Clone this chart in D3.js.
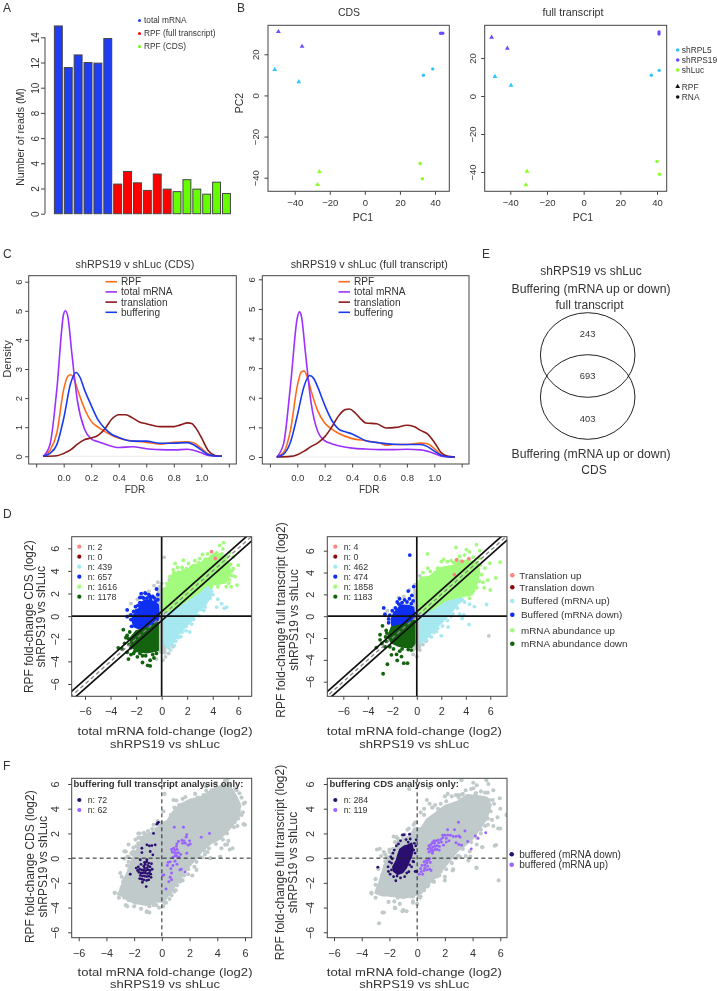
<!DOCTYPE html>
<html><head><meta charset="utf-8">
<script src="https://cdn.jsdelivr.net/npm/d3@7/dist/d3.min.js"></script>
<style>
html,body{margin:0;padding:0;background:#fff}
svg{display:block;filter:blur(0.3px)}
text{font-family:"Liberation Sans",Arial,sans-serif;fill:#333}
</style></head><body><svg id="c" width="717" height="991"></svg>
<script>
// ---------- Panel A
const readGroups = ["total mRNA","RPF (full transcript)","RPF (CDS)"];
const readsMrna = [14.9,11.6,12.6,12.0,11.95,13.9];
const readsFull = [2.35,3.35,2.45,1.85,3.15,1.95];
const readsCds  = [1.75,2.7,1.95,1.55,2.5,1.6];
const readTicks = [0,2,4,6,8,10,12,14];
// ---------- Panel B  [PC1,PC2]
const pcaConditions = ["shRPL5","shRPS19","shLuc"];
const pcaCdsRpf = [[-51.4,12.6],[-37.7,6.6],[-49.3,31.0],[-35.8,23.8],[-25.9,-37.1],[-27.0,-43.4]];
const pcaCdsRna = [[33.4,9.8],[38.7,12.9],[43.2,30.2],[44.4,30.2],[31.5,-33.1],[32.8,-40.5]];
const pcaFullRpf = [[-48.4,10.2],[-39.6,5.6],[-50.2,30.9],[-41.6,25.1],[-30.9,-39.6],[-31.5,-46.8]];
const pcaFullRna = [[36.9,10.9],[41.2,13.5],[41.1,33.7],[41.1,32.6],[40.0,-34.4],[41.4,-41.2]];
const pcaTicksX = [-40,-20,0,20,40];
const pcaTicksY = [-40,-20,0,20];
// ---------- Panel C  [FDR,density]
const densityNames = ["RPF","total mRNA","translation","buffering"];
const fdrTicks = [-0.2,0,0.2,0.4,0.6,0.8,1,1.2];
const cdsRpf = [[-.15,0],[-.1,.2],[-.05,.8],[0,2.3],[.03,2.75],[.05,2.8],[.08,2.6],[.1,2.3],[.15,1.65],[.2,1.2],[.25,1],[.3,.85],[.35,.72],[.4,.62],[.5,.53],[.6,.48],[.7,.42],[.8,.48],[.9,.5],[.95,.45],[1,.28],[1.05,.08],[1.1,.01],[1.15,0]];
const cdsMrna = [[-.15,0],[-.1,.4],[-.05,2.3],[0,4.9],[.012,5],[.03,4.8],[.06,3.5],[.1,1.9],[.15,.95],[.2,.6],[.25,.5],[.3,.42],[.4,.3],[.5,.33],[.6,.26],[.7,.23],[.8,.22],[.9,.24],[1,.12],[1.05,.03],[1.15,0]];
const cdsTrans = [[-.15,0],[-.05,.02],[0,.1],[.05,.22],[.1,.42],[.15,.57],[.2,.63],[.25,.72],[.3,.95],[.35,1.28],[.4,1.43],[.45,1.43],[.5,1.32],[.55,1.18],[.6,1.12],[.7,1.02],[.8,1.02],[.85,1.08],[.9,1.15],[.93,1.13],[.97,.9],[1,.65],[1.05,.2],[1.1,.03],[1.15,0]];
const cdsBuff = [[-.15,0],[-.1,.1],[-.05,.4],[0,1.3],[.05,2.5],[.09,2.88],[.12,2.7],[.15,2.3],[.2,1.75],[.25,1.25],[.3,.95],[.35,.75],[.4,.65],[.5,.52],[.6,.52],[.7,.45],[.8,.45],[.9,.47],[.95,.38],[1,.22],[1.05,.06],[1.1,.01],[1.15,0]];
const fullRpf = [[-.15,0],[-.1,.15],[-.05,.9],[0,2.4],[.03,2.88],[.05,2.9],[.08,2.6],[.1,2.25],[.15,1.55],[.2,1.15],[.25,.95],[.3,.8],[.4,.62],[.5,.55],[.6,.47],[.65,.4],[.7,.42],[.8,.42],[.9,.47],[.95,.45],[1,.28],[1.05,.08],[1.1,.01],[1.15,0]];
const fullMrna = [[-.15,0],[-.1,.45],[-.05,2.4],[0,4.7],[.015,4.9],[.03,4.75],[.06,3.5],[.1,1.85],[.15,.85],[.2,.55],[.25,.45],[.3,.38],[.4,.3],[.5,.27],[.6,.25],[.7,.25],[.8,.26],[.9,.24],[1,.12],[1.05,.03],[1.15,0]];
const fullTrans = [[-.15,0],[-.05,.02],[0,.08],[.05,.2],[.1,.35],[.15,.48],[.2,.68],[.25,1],[.3,1.38],[.35,1.6],[.38,1.62],[.42,1.5],[.47,1.25],[.5,1.15],[.58,1.12],[.65,.98],[.72,1],[.8,1.07],[.85,1.03],[.9,.9],[.95,.78],[1,.5],[1.05,.15],[1.1,.02],[1.15,0]];
const fullBuff = [[-.15,0],[-.1,.1],[-.05,.5],[0,1.4],[.05,2.4],[.09,2.75],[.12,2.65],[.15,2.35],[.2,1.75],[.25,1.25],[.3,.95],[.35,.85],[.4,.78],[.5,.55],[.6,.48],[.7,.43],[.8,.42],[.9,.42],[.95,.35],[1,.2],[1.05,.06],[1.1,.01],[1.15,0]];
const densTicks = [0,1,2,3,4,5,6];
// ---------- Panel E
const vennCounts = [243,693,403];
// ---------- Panels D and F: dense parts of each cloud as outlines, sparse points as single points [mRNA,RPF]
const foldTicks = [-6,-4,-2,0,2,4,6];
const classNames = ["Translation up","Translation down","Buffered (mRNA up)","Buffered (mRNA down)","mRNA abundance up","mRNA abundance down"];
const countsCds = [2,0,439,657,1616,1178];
const countsFull = [4,0,462,474,1858,1183];
const cdsGreenArea = [[.15,.3],[.15,2.1],[.45,2.7],[.7,3.2],[.95,3.9],[1.3,3.7],[1.7,4.1],[2.1,4.1],[2.4,4.5],[3,4.6],[3.4,5],[4.1,5.3],[4.5,5.5],[5,5.1],[5.3,4.4],[5.3,3.6],[5.05,3.1],[4.6,2.9],[4,2.8],[3.4,2.7],[3,2.2],[2.2,1.6],[1.3,.9],[.6,.5]];
const cdsCyanArea = [[.2,-.2],[.6,.5],[1.3,.9],[2.2,1.6],[3,2.2],[3.4,2.7],[3.9,2.6],[3.8,1.7],[3.4,1],[2.8,.4],[2.4,-.3],[1.8,-1],[1.3,-1.6],[.9,-2.3],[.45,-2.8],[.25,-2.4]];
const cdsGrayArea = [[-.4,-.3],[-.3,2.4],[.2,2.4],[.2,-.2],[.25,-2.3],[.3,-3.3],[-.1,-3.2],[-.25,-3]];
const cdsBlueArea = [[-.25,.2],[-.3,1],[-.6,1.2],[-.9,1.4],[-1.3,1.4],[-1.55,1.2],[-1.75,.7],[-2,.3],[-2.2,.05],[-2.3,-.3],[-2.15,-.9],[-1.5,-1.2],[-1,-1],[-.5,-.5],[-.3,-.3]];
const cdsDarkArea = [[-.3,-.6],[-1,-1],[-1.5,-1.2],[-2,-1.35],[-2.4,-1.9],[-2.4,-2.6],[-1.9,-3.1],[-1.2,-3.2],[-.6,-3.1],[-.3,-3]];
const cdsRedPts = [[3.9,5.7],[4.2,5.1]];
const cdsGreenPts = [[4.85,6.5],[4.55,6.25],[4.8,5.95],[4.3,5.6],[3.6,5.5],[3.2,5.45],[5.3,5.6],[5.6,5.25],[6,4.5],[5.75,3.5],[5.9,2.75],[5.45,2.6],[5.05,2.6],[5.6,4.2],[1.7,4.95],[2.1,4.66],[1.05,4.66],[.9,4.1],[.65,3.5],[.4,2.9],[1.3,3.9],[2.6,4.9],[3,5.1],[.85,3.2],[.3,2.4],[1.6,4.3],[2.3,4.3],[5.3,3.2],[5.5,3.6],[4.9,3],[4.4,2.6],[3.9,2.6],[5.4,4.6],[5.1,5.3],[4.7,5.5],[3.9,5.3],[2.9,4.7],[1.95,4.2],[1.25,4.3],[5.5,4],[5.3,3.8],[5.25,2.9],[1,3.8],[3.4,5.05],[4.1,5.45]];
const cdsCyanPts = [[5.1,.8],[4.7,1.1],[4.3,.8],[4.9,.7],[4.4,1.5],[3.8,1.6],[3.4,.8],[2.9,.05],[2.2,-1.4],[1.9,-.9],[1.6,-1.4],[1,-2.6],[.7,-3],[.5,-2.2],[3.5,1.5],[4,1.9],[2.5,-.3],[1.3,-1.9],[3.9,2.2],[3.3,.5],[3.05,.6],[2.7,.1],[2.35,-.7],[1.9,-1.3],[1.5,-1.8],[1.1,-2.2]];
const cdsGrayPts = [[.2,5.2],[-.3,3],[0,2.9],[.6,3.2],[-.6,2.7],[-1,2.2],[-2.4,1.1],[-2.1,.5],[.2,-3],[.3,-3.6],[.55,-3.3],[-.1,-3],[.9,-2.7],[-.4,-3.8],[.1,-3.9],[.1,2.3],[5.05,3.6],[1.5,-.5],[.55,-2.8],[.75,-2.5],[-2.5,.1],[-1.9,1.5],[-.15,2.6]];
const cdsBluePts = [[-2.7,.55],[-2.2,.4],[-2.05,.85],[-1.7,1.2],[-1.6,2],[-1.3,2.05],[-1,1.9],[-.7,1.75],[-.4,2.4],[-.3,1.9],[-.5,1.3],[-1.4,1.6],[-2.4,-.3],[-2.7,-.05],[-2.35,-.9],[-1.85,.95],[-1.5,1.65],[-1.15,1.6],[-.85,1.55],[-.55,1.6],[-.3,1.45],[-1.95,.5],[-2.4,.1],[-1.25,2],[-1.7,1.65],[-.95,1.75]];
const cdsDarkPts = [[-3.4,-2.8],[-3,-1.2],[-2.8,-1.9],[-2.9,-2.4],[-2.7,-3.2],[-2.6,-3.8],[-2.1,-3.1],[-1.9,-3.6],[-1.5,-3.5],[-1.1,-4.35],[-.9,-4.4],[-.9,-3.9],[-.6,-3.7],[-1.5,-4.1],[-2.4,-3.4],[-3.1,-2.9],[-2.5,-1.4],[-2.6,-2],[-2.55,-2.5],[-2.7,-1.7],[-2.4,-2.8],[-2.2,-3.3],[-1.7,-3.3],[-1.25,-3.5],[-.7,-3.4],[-.4,-3.3]];
const fullGreenArea = [[.25,.3],[.15,3],[.3,3.5],[1.05,3.6],[1.9,4.4],[3,4.6],[3.5,5.1],[4.4,5],[4.95,5],[5.1,4],[4.85,2.9],[4.5,2],[3.5,1.8],[2.4,1.5],[1.3,.7]];
const fullCyanArea = [[.25,-.1],[.25,.3],[1.3,.7],[2.4,1.5],[3.5,1.8],[3.8,1.5],[3.3,1.1],[2.9,.5],[2.4,-.1],[2,-.6],[1.6,-1],[1.25,-1.4],[.75,-2],[.3,-2.5]];
const fullGrayArea = [[-.2,0],[-.2,2.4],[.2,2.4],[.25,-.1],[.3,-2.4],[.25,-2.9],[-.2,-3]];
const fullBlueArea = [[-.2,0],[-.3,.8],[-.7,.95],[-1.3,1],[-1.5,.7],[-1.85,.3],[-2.05,-.3],[-2,-.9],[-1.6,-.9],[-1,-.8],[-.5,-.4]];
const fullDarkArea = [[-.2,-.4],[-1,-.8],[-1.6,-.9],[-2.05,-1.05],[-2.35,-1.9],[-2.05,-2.4],[-1.5,-2.7],[-1,-2.8],[-.4,-2.8],[-.2,-2.5]];
const fullRedPts = [[3.24,5.15],[3.7,5.03],[4.25,5.27],[3.07,3.8]];
const fullGreenPts = [[3.2,6.3],[4.87,6.55],[4.05,6.1],[4.3,5.9],[.87,5.7],[5.14,6],[6.8,4.94],[5.96,4.85],[5.55,4.4],[6.45,3.5],[6,2.4],[5.8,3.3],[.9,4.4],[.5,4],[2,5],[2.2,5.2],[3,4.9],[3.5,5.5],[4.6,4.4],[4.3,1.65],[3.8,2.2],[5.4,3.1],[5.5,2.6],[2.5,5],[3.9,5.6],[1.1,4.1],[1.5,4],[2.8,5.1],[3.3,5.2],[4.2,5.2],[4.6,5.4],[5.1,5.3],[5.2,4.7],[5.3,3.8],[5.1,3.2],[4.9,2.6],[4.6,2.3],[1.7,4.4]];
const fullCyanPts = [[5.7,1.07],[4.7,.88],[4.27,-.76],[3.5,.18],[3.84,.12],[3.7,-.2],[2.56,-1],[2,-1.8],[1.6,-1.4],[.8,-2.2],[1.2,-1.9],[4.3,1.1],[3.9,1.3],[2.8,0],[3.3,.75],[2.95,.2],[2.5,-.4],[2.1,-.9],[1.7,-1.1],[1.4,-1.5],[1,-1.8]];
const fullGrayPts = [[5.88,-1.8],[-.16,2.87],[.25,3.7],[-1.5,1.7],[-1.06,1.8],[-.3,-3.5],[0,-3.7],[.25,-3.1],[-.6,2.4],[-2.4,.5],[-.3,-3.1],[.5,-2.6],[.75,-2.3],[.1,-3],[-.1,2.9]];
const fullBluePts = [[-.57,5.6],[-2.7,.76],[-2.6,.18],[-.25,2.7],[-.7,2.3],[-1.4,1.6],[-.4,1.9],[-1,1.5],[-1.6,1.3],[-2.2,.1],[-2.3,-.6],[-.6,1.6],[-.3,1.4],[-.8,1.3],[-1.2,1.25],[-1.75,.75],[-2,.5],[-2.3,-.25],[-.45,1.15],[-1.45,1.1]];
const fullDarkPts = [[-2.75,-5.27],[-2.4,-4.4],[-3.3,-2.87],[-2.07,-3.54],[-1.65,-3.5],[-1.6,-4.05],[-1.06,-4.3],[-.76,-4.3],[-1.25,-3.7],[-3,-1.7],[-2.8,-.88],[-2.5,-1.3],[-3,-2.16],[-1.9,-3],[-2.6,-2.8],[-1.4,-3.2],[-2.85,-2.5],[-2.55,-1.9],[-2.5,-2.3],[-2.2,-2.8],[-1.2,-3],[-.7,-3.05],[-.45,-3.1],[-2.45,-1.55]];
// Panel F: gray outlines and the two highlighted sets
const cdsCloudArea = [[-3.1,-2.9],[-2.8,-2],[-2.4,-1],[-2.2,-.3],[-1.8,.6],[-1.5,1.4],[-1.3,1.8],[-.9,2],[-.4,2.2],[-.1,2.7],[.4,3],[.8,3.7],[1.3,4.3],[2,4.7],[3,5],[3.6,5.5],[4.4,5.9],[4.9,5.8],[5.3,5.1],[5.6,4.4],[5.6,3.5],[5.3,3],[4.8,2.3],[4.2,1.6],[3.5,1.2],[2.9,.6],[2.3,-.2],[1.7,-1],[1.2,-1.8],[.6,-2.8],[.1,-3.5],[-.5,-3.5],[-1,-3.8],[-2,-3.6],[-2.5,-3.3]];
const fullCloudArea = [[-3,-2.8],[-2.7,-1.9],[-2.4,-.8],[-2.2,-.2],[-1.8,.4],[-1.45,1],[-1.4,1.4],[-1,1.5],[-.5,1.8],[-.2,2.4],[.3,2.4],[.7,3.1],[1.3,3.6],[2,4.2],[3,4.6],[3.6,5.1],[4.5,5],[5,4.9],[5.3,4.3],[5,3.2],[4.5,2.4],[4,1.6],[3.5,1.1],[2.9,.6],[2.4,-.1],[1.9,-.8],[1.4,-1.4],[.8,-2.1],[.3,-2.8],[-.3,-3],[-1,-3.2],[-2,-3],[-2.5,-3]];
const cdsEdgePts = [[6,2.7],[5.9,4.4],[4.2,.13],[4.57,1.08],[4.8,1.4],[3.5,0],[2.5,-.95],[1.44,-1.75],[.6,-2.8],[-1.08,-4.3],[-3.4,-2.8],[-2.5,-3.9],[-2.6,.54],[-1.7,2],[.12,3.8],[.84,4.7],[.96,4.04],[.6,3.1],[4.7,6.3],[3.9,6.1],[3.2,5.8],[2.4,5.2],[1.5,4.8],[5.4,5.5],[5.75,4.9],[5.85,3.7],[5.5,3.2],[5.2,2.5],[4.7,2],[3.9,1.15],[3.1,.3],[-2.9,-1.5],[-2.5,-.6],[-2.1,.3],[-1.5,1.6],[-.7,2.35],[-3.1,-3.2],[-2,-3.9],[-.6,-3.8],[-.2,-4],[.2,-3.6]];
const fullEdgePts = [[3.2,6.4],[5,6.3],[4.06,5.66],[5.5,5.5],[6,4],[6.46,3.5],[5.85,2.4],[5.45,4.7],[4.9,5.3],[3,5.1],[2.1,4.6],[1.1,4.1],[.5,3.5],[.7,4.7],[1.3,4.3],[-3,-3.2],[-3.3,-2.8],[-2.7,-2.2],[-2.9,.7],[-2.3,.3],[-2,.7],[-1.7,1.75],[-.9,1.9],[-2.8,-.8],[-2.5,-4.4],[-1.6,-4],[-1,-4.2],[-.3,-3.6],[.2,-3.2],[1.2,-1.9],[2,-1.5],[2.6,-.9],[3.1,.1],[3.8,.55],[4.3,-.8],[4.7,.9],[5.6,1],[4.6,2],[5.1,2.7]];
const onlyCounts1 = [72,62];
const onlyCounts2 = [284,119];
const onlyFullDown = [[-.24,2.9],[-.3,2.85],[-.36,2.75],[-.6,2],[-1.44,.8],[-1.08,1.08],[-.9,1],[-.72,1.02],[-.48,1.08],[-1.44,.45],[-.84,.54],[-.65,.27],[-1.08,-.13],[-1.56,-.13],[-1.25,-.35],[-1.1,-.3],[-.95,-.4],[-1.2,-.5],[-1,-.6],[-.85,-.7],[-1.3,-.65],[-1.5,-.5],[-1.7,-.7],[-1.85,-.8],[-1.75,-1],[-1.6,-.9],[-1.45,-.95],[-1.3,-1],[-1.15,-1],[-1,-.95],[-.85,-1],[-1.65,-1.15],[-1.5,-1.2],[-1.35,-1.2],[-1.2,-1.2],[-1.05,-1.25],[-.9,-1.2],[-.8,-1.3],[-1.55,-1.4],[-1.4,-1.45],[-1.25,-1.45],[-1.1,-1.5],[-.95,-1.45],[-1.6,-1.65],[-1.45,-1.7],[-1.3,-1.75],[-1.1,-1.8],[-.95,-1.75],[-.78,-1.55],[-1.4,-1.95],[-2.28,-1.3],[-1.13,-2.3],[-1.25,-.8],[-1.05,-.78],[-.7,-.9],[-.75,-.45]];
const onlyFullUp = [[.9,2.5],[1.56,2.5],[1.8,1.9],[1.75,1.7],[2.84,1.7],[3.44,2],[1.45,1.45],[1.6,1.4],[1.5,1.2],[1.7,1.2],[2,1.4],[2.05,1.15],[1.9,1.05],[1.2,1.35],[1.05,.95],[1.08,1.15],[.85,.8],[.7,.7],[.95,.65],[1.1,.7],[.75,.5],[.9,.45],[1.05,.4],[1.2,.45],[1.35,.3],[.95,.2],[1.1,.15],[.8,.05],[1.25,.05],[1.8,.4],[.6,-.3],[.45,-.35],[.95,-.25],[.8,-.6],[.65,-.85],[1.1,-.5],[1.3,-.95],[1.68,-1.13],[.7,-1.2],[.7,-1.75],[.5,-1.9],[.07,-1.4],[.15,-1.35],[.3,-2.5],[.6,-1.55],[1.4,-.9],[.4,-.6]];
const onlyCdsDownArea = [[-.4,1.2],[-.3,.7],[-.4,.2],[-.6,-.3],[-.8,-.8],[-1.05,-1.15],[-1.4,-1.3],[-1.7,-1.05],[-1.75,-.7],[-1.5,-.2],[-1.4,.2],[-1.25,.7],[-.95,.95],[-.7,1.05]];
const onlyCdsDown = [[-2.84,-.73],[-1.06,1.89],[-.94,1.89],[-.55,1.94],[-1.54,-1.83],[-1.7,-1.5],[-2.07,-1.08],[-.02,-1.08],[-.14,-1.08],[-.07,1.48],[-.2,1.2],[-.3,-.27],[-1.2,1.4],[-.8,1.5],[-.5,1.55],[-1.5,1],[-1.75,.4],[-1.9,.1],[-2,-.3],[-2.1,-.7],[-1.95,-1.3],[-1.2,-1.6],[-.9,-1.5],[-.6,-1.1],[-.4,-.7],[-.25,-.3],[-.15,.4],[-.1,1],[-1.55,-.9],[-1.85,-.4],[-1.65,.65],[-1.8,-.05],[-1.35,1.15],[-.65,1.3],[-.25,.65],[-.55,-.55],[-.75,-1.2],[-1.45,-1.45],[-1.85,-.95]];
const onlyCdsUp = [[2.98,2.9],[2.2,2.3],[2.7,2.3],[3.45,2.2],[4.2,1.8],[4.4,1.6],[4.95,2.05],[3.65,1.35],[3.9,.75],[3.2,1.05],[3,1.1],[2.8,1.25],[3.1,1.7],[3,1.8],[2.8,1.75],[2.6,1.75],[2.4,1.85],[2.2,1.85],[2,1.85],[1.85,1.85],[1.85,1.65],[2.1,1.6],[1.7,1.5],[1.5,1.45],[1.75,1.3],[1.55,1.25],[1.35,1.4],[1.2,1.4],[1.25,1.2],[1.1,1.25],[1,1.1],[.85,1],[.95,.85],[.8,.75],[1.05,.7],[1.15,.9],[1.3,.95],[1.45,1],[1.6,.95],[1.3,.7],[1.15,.6],[.95,.55],[1.45,.7],[1.6,.65],[1.1,.4],[.85,.5],[1.9,1.05],[2.1,1.3],[2.3,1.4],[.9,-.05],[.8,-.2],[.95,-.35],[.7,-.4],[.55,-.55],[.75,-.65],[.55,-.8],[.35,-.6],[.5,-1],[.25,-.85],[.7,-.95],[.9,-.9],[1,-1],[.4,-1.3],[.15,-1.3],[.3,-1.1],[.65,-.2],[.5,-.3]];

// ---------- colours
const BLUE="#1f3df2",RED="#ff0000",GRN="#66ff00";
const C_RPL="#33c4ff",C_S19="#6a4cff",C_LUC="#88ff22";
const L_ORG="#ff6a1a",L_PUR="#9b30ff",L_RED="#8b1a1a",L_BLU="#1a3cf0";
const D_PINK="#ff8585",D_RED="#8b0d0d",D_CY="#a6e8f0",D_BL="#0f2ff0",D_GR="#a2fb7c",D_DG="#14640f",D_GY="#c2caca";
const F_GY="#c0caca",F_NV="#2b0f70",F_PU="#9a62ff";
const INK="#333",FRAME="#444";

const svg=d3.select("#c");
const label=(x,y,t,o={})=>{const s=svg.append("text").attr("x",x).attr("y",y).text(t)
  .attr("font-size",o.size||10).attr("text-anchor",o.anchor||"middle");
  if(o.weight)s.attr("font-weight",o.weight);
  if(o.len)s.attr("textLength",o.len).attr("lengthAdjust","spacingAndGlyphs");
  if(o.rot)s.attr("transform",`rotate(-90 ${x} ${y})`);return s;};
[["A",3,11.5],["B",237,11.5],["C",3,258],["D",3,518],["E",482,258],["F",3,770]].forEach(d=>label(d[1],d[2],d[0],{size:12,anchor:"start"}));

function axes(p){
  const ax=d3.axisBottom(p.x).tickValues(p.xt).tickSize(p.tick||3.5).tickPadding(p.xpad||2).tickFormat(p.xf||(d=>String(d).replace("-","\u2212")));
  const gx=svg.append("g").attr("transform",`translate(0,${p.b})`).call(ax);
  const ay=d3.axisLeft(p.y).tickValues(p.yt).tickSize(p.tick||3.5).tickFormat(d=>String(d).replace("-","\u2212"));
  const gy=svg.append("g").attr("transform",`translate(${p.l},0)`).call(ay);
  [gx,gy].forEach(g=>{g.select(".domain").remove();g.selectAll("line").attr("stroke",FRAME).attr("stroke-width",1);
    g.selectAll("text").attr("font-size",p.size||9.5).attr("font-family",'"Liberation Sans",Arial,sans-serif').attr("fill",INK);});
  gy.selectAll("text").attr("text-anchor","middle").attr("dy","0").attr("x",null).attr("y",0)
    .attr("transform",`translate(${p.yLab-p.l},0) rotate(-90)`);
  if(p.box!==false)svg.append("rect").attr("x",p.l).attr("y",p.t).attr("width",p.r-p.l).attr("height",p.b-p.t)
    .attr("fill","none").attr("stroke",FRAME).attr("stroke-width",1);
}
const ln=(g,x1,y1,x2,y2,w,c,dash)=>{const l=g.append("line").attr("x1",x1).attr("y1",y1).attr("x2",x2).attr("y2",y2).attr("stroke",c).attr("stroke-width",w);if(dash)l.attr("stroke-dasharray",dash);return l;};

// ---------- A
(function(){
  const values=[...readsMrna,...readsFull,...readsCds];
  const cols=[...readsMrna.map(()=>BLUE),...readsFull.map(()=>RED),...readsCds.map(()=>GRN)];
  const x=d3.scaleBand().domain(d3.range(values.length)).range([52.4,232.4]).padding(0.2);
  const y=d3.scaleLinear([0,14],[213.7,37.3]);
  svg.append("g").selectAll("rect").data(values).join("rect")
    .attr("x",(d,i)=>x(i)).attr("width",x.bandwidth()).attr("y",d=>y(d)).attr("height",d=>y(0)-y(d))
    .attr("fill",(d,i)=>cols[i]).attr("stroke","#444").attr("stroke-width",1);
  const g=svg.append("g").attr("transform","translate(45,0)").call(d3.axisLeft(y).tickValues(readTicks).tickSize(4));
  g.select(".domain").attr("d",`M0,${y(0)}V${y(14)}`).attr("stroke",FRAME);
  g.selectAll("line").attr("stroke",FRAME);
  g.selectAll("text").attr("font-size",10).attr("fill",INK).attr("text-anchor","middle").attr("x",null).attr("dy","0")
    .attr("transform","translate(-6,0) rotate(-90)").attr("y",0);
  label(24,137,"Number of reads (M)",{size:10.6,rot:true});
  [BLUE,RED,GRN].forEach((c,i)=>{const yy=20+i*13;
    svg.append("circle").attr("cx",139.5).attr("cy",yy+.5).attr("r",1.5).attr("fill",c);
    label(144,yy+3,readGroups[i],{size:8.3,anchor:"start"});});
})();

// ---------- B
function pca(p,rpf,rna){
  axes(p);
  const cols=[C_RPL,C_RPL,C_S19,C_S19,C_LUC,C_LUC];
  const tri=d3.symbol().type(d3.symbolTriangle).size(10);
  svg.append("g").selectAll("path").data(rpf).join("path").attr("d",tri)
    .attr("transform",d=>`translate(${p.x(d[0])},${p.y(d[1])})`).attr("fill",(d,i)=>cols[i]);
  svg.append("g").selectAll("circle").data(rna).join("circle")
    .attr("cx",d=>p.x(d[0])).attr("cy",d=>p.y(d[1])).attr("r",1.7).attr("fill",(d,i)=>cols[i]);
}
pca({l:268,r:449.3,t:25.3,b:191.3,x:d3.scaleLinear([-40,40],[294.7,435]),y:d3.scaleLinear([-40,20],[177.7,54.3]),xt:pcaTicksX,yt:pcaTicksY,yLab:259,size:9.5,xpad:4.5},pcaCdsRpf,pcaCdsRna);
pca({l:484.7,r:666.7,t:25.3,b:191.3,x:d3.scaleLinear([-40,40],[510.3,657]),y:d3.scaleLinear([-40,20],[172,58]),xt:pcaTicksX,yt:pcaTicksY,yLab:476,size:9.5,xpad:4.5},pcaFullRpf,pcaFullRna);
label(349,16,"CDS",{size:10.5});label(573,16,"full transcript",{size:10.8});
label(363,221,"PC1",{size:10.5});label(583,221,"PC1",{size:10.5});label(243,103,"PC2",{size:10.5,rot:true});
[C_RPL,C_S19,C_LUC].forEach((c,i)=>{const yy=50+i*10;
  svg.append("circle").attr("cx",677.7).attr("cy",yy).attr("r",1.8).attr("fill",c);
  label(681.8,yy+3,pcaConditions[i],{size:8.4,anchor:"start"});});
svg.append("path").attr("d",d3.symbol().type(d3.symbolTriangle).size(10)).attr("transform","translate(677.7,86.5)").attr("fill","#111");
svg.append("circle").attr("cx",677.7).attr("cy",97).attr("r",1.8).attr("fill","#111");
label(681.8,89.5,"RPF",{size:8.4,anchor:"start"});label(681.8,100,"RNA",{size:8.4,anchor:"start"});

// ---------- C
function dens(p,curves,title,tx,legX){
  const fx=d=>(d===-0.2||d===1.2)?"":d3.format(".1f")(d);
  axes({...p,xf:fx,xt:fdrTicks,yt:densTicks,size:9.5,xpad:6.5});
  ln(svg,p.x(-.15),p.y(0),p.x(1.15),p.y(0),.6,"#ddd");
  const line=d3.line().x(d=>p.x(d[0])).y(d=>p.y(d[1])).curve(d3.curveMonotoneX);
  const cols=[L_ORG,L_PUR,L_RED,L_BLU];
  [0,1,2,3].forEach(i=>svg.append("path").datum(curves[i]).attr("d",line).attr("fill","none").attr("stroke",cols[i]).attr("stroke-width",1.6));
  densityNames.forEach((n,i)=>{const yy=281.7+i*10.2;
    ln(svg,legX,yy,legX+11.5,yy,1.6,cols[i]);
    label(legX+15.5,yy+3.5,n,{size:10.1,anchor:"start"});});
  label(tx,267.5,title,{size:10.8});label(tx,492.5,"FDR",{size:10});
}
dens({l:28.7,r:236.3,t:275.7,b:464,x:d3.scaleLinear([0,1],[63.7,201.3]),y:d3.scaleLinear([0,6],[456.3,281.7]),yLab:21.5},[cdsRpf,cdsMrna,cdsTrans,cdsBuff],"shRPS19 v shLuc (CDS)",135,105.5);
dens({l:262.3,r:469,t:275.7,b:464,x:d3.scaleLinear([0,1],[297.3,434.3]),y:d3.scaleLinear([0,6],[457,279.3]),yLab:255},[fullRpf,fullMrna,fullTrans,fullBuff],"shRPS19 v shLuc (full transcript)",369.3,338.5);
label(10.5,359,"Density",{size:11.3,rot:true});

// ---------- E
svg.append("ellipse").attr("cx",587.7).attr("cy",355).attr("rx",47.3).attr("ry",42.3).attr("fill","none").attr("stroke","#222").attr("stroke-width",1);
svg.append("ellipse").attr("cx",587.7).attr("cy",397).attr("rx",47.3).attr("ry",42.3).attr("fill","none").attr("stroke","#222").attr("stroke-width",1);
[337.3,379.3,421.7].forEach((y,i)=>label(587.7,y,vennCounts[i],{size:9.4}));
label(591,275,"shRPS19 vs shLuc",{size:12});
label(591,293.3,"Buffering (mRNA up or down)",{size:12.2});
label(589.5,309,"full transcript",{size:12});
label(591,458.3,"Buffering (mRNA up or down)",{size:12.2});
label(594,474,"CDS",{size:12});

// ---------- D, F shared
let clipN=0;
function plotArea(p){
  const id="clip"+(clipN++);
  svg.append("clipPath").attr("id",id).append("rect").attr("x",p.l).attr("y",p.t).attr("width",p.r-p.l).attr("height",p.b-p.t);
  return svg.append("g").attr("clip-path",`url(#${id})`);
}
function cloud(g,p,area,pts,col,r){
  const a=d3.line().x(d=>p.x(d[0])).y(d=>p.y(d[1])).curve(d3.curveLinearClosed);
  if(area)g.append("path").datum(area).attr("d",a).attr("fill",col).attr("stroke",col).attr("stroke-width",r*1.2).attr("stroke-linejoin","round");
  g.append("g").selectAll("circle").data(pts).join("circle").attr("cx",d=>p.x(d[0])).attr("cy",d=>p.y(d[1])).attr("r",r).attr("fill",col);
}
function panelD(p,sets,counts,lx,ltx){
  const g=plotArea(p),r=1.9;
  cloud(g,p,sets.grayA,sets.grayP,D_GY,r);
  cloud(g,p,sets.cyA,sets.cyP,D_CY,r);
  cloud(g,p,sets.grA,sets.grP,D_GR,r);
  cloud(g,p,sets.blA,sets.blP,D_BL,r);
  cloud(g,p,sets.dkA,sets.dkP,D_DG,r);
  cloud(g,p,null,sets.red,D_PINK,r);
  const m=8,xs=p.x,ys=p.y;
  ln(g,xs(-m),ys(-m),xs(m),ys(m),1.3,"#888","4 3");
  [.4,-.4].forEach(o=>ln(g,xs(-m),ys(-m+o),xs(m),ys(m+o),1.7,"#111"));
  ln(g,xs(0),p.t,xs(0),p.b,1.7,"#111");ln(g,p.l,ys(0),p.r,ys(0),1.7,"#111");
  axes({...p,xt:foldTicks,yt:foldTicks,size:10.8,xpad:7.5});
  const cols=[D_PINK,D_RED,D_CY,D_BL,D_GR,D_DG];
  counts.forEach((n,i)=>{const yy=546.7+i*10;
    svg.append("circle").attr("cx",lx).attr("cy",yy).attr("r",2.1).attr("fill",cols[i]);
    label(ltx,yy+2.8,"n: "+n,{size:8.8,anchor:"start"});});
}
function panelF(p,cloudArea,allPts,down,up,downArea,title,counts,lx,ltx){
  const g=plotArea(p);
  cloud(g,p,cloudArea,allPts,F_GY,2.05);
  cloud(g,p,downArea,down,F_NV,1.4);
  cloud(g,p,null,up,F_PU,1.45);
  ln(g,p.x(0),p.t,p.x(0),p.b,1,"#222","4 3");ln(g,p.l,p.y(0),p.r,p.y(0),1,"#222","4 3");
  axes({...p,xt:foldTicks,yt:foldTicks,size:10.8,xpad:8.5});
  label(lx-5.8,787,title,{size:9.5,anchor:"start",weight:"bold"});
  [F_NV,F_PU].forEach((c,i)=>{const yy=800+i*10;
    svg.append("circle").attr("cx",lx).attr("cy",yy).attr("r",2.1).attr("fill",c);
    label(ltx,yy+2.8,"n: "+counts[i],{size:8.8,anchor:"start"});});
}
const cdsSets={grayA:cdsGrayArea,grayP:cdsGrayPts,cyA:cdsCyanArea,cyP:cdsCyanPts,grA:cdsGreenArea,grP:cdsGreenPts,blA:cdsBlueArea,blP:cdsBluePts,dkA:cdsDarkArea,dkP:cdsDarkPts,red:cdsRedPts};
const fullSets={grayA:fullGrayArea,grayP:fullGrayPts,cyA:fullCyanArea,cyP:fullCyanPts,grA:fullGreenArea,grP:fullGreenPts,blA:fullBlueArea,blP:fullBluePts,dkA:fullDarkArea,dkP:fullDarkPts,red:fullRedPts};
const pDL={l:71.7,r:251.7,t:536.7,b:696.3,x:d3.scaleLinear([-6,6],[85,238.3]),y:d3.scaleLinear([-6,6],[684,548.3]),yLab:58.7};
const pDR={l:327.3,r:507,t:536.7,b:696.3,x:d3.scaleLinear([-6,6],[343.3,490.3]),y:d3.scaleLinear([-6,6],[681.7,550.7]),yLab:314};
const pFL={l:71.7,r:251.7,t:778.3,b:937.7,x:d3.scaleLinear([-6,6],[78.7,245]),y:d3.scaleLinear([-6,6],[932.3,784]),yLab:58.7};
const pFR={l:327.3,r:507,t:778.3,b:937.7,x:d3.scaleLinear([-6,6],[334,500.3]),y:d3.scaleLinear([-6,6],[932.3,784]),yLab:314};
panelD(pDL,cdsSets,countsCds,79.3,87.7);
panelD(pDR,fullSets,countsFull,335.3,343.7);
panelF(pFL,cdsCloudArea,[...cdsEdgePts,...cdsGrayPts,...cdsCyanPts,...cdsGreenPts,...cdsBluePts,...cdsDarkPts,...cdsRedPts],onlyFullDown,onlyFullUp,null,"buffering full transcript analysis only:",onlyCounts1,79.3,87.7);
panelF(pFR,fullCloudArea,[...fullEdgePts,...fullGrayPts,...fullCyanPts,...fullGreenPts,...fullBluePts,...fullDarkPts,...fullRedPts],onlyCdsDown,onlyCdsUp,onlyCdsDownArea,"buffering CDS analysis only:",onlyCounts2,335.3,343.7);
// axis and side labels
const XL="total mRNA fold-change (log2)",SUB="shRPS19 vs shLuc";
[[165,735,748],[414.3,735,748],[165,975.5,988.3],[414.3,975.5,988.3]].forEach(d=>{
  label(d[0],d[1],XL,{size:11.5,len:175});label(d[0],d[2],SUB,{size:11.5,len:110});});
const YC="RPF fold-change CDS (log2)",YF="RPF fold-change full transcript (log2)";
label(33.5,616.7,YC,{size:12,rot:true});label(45.5,616.7,SUB,{size:12,rot:true});
label(284.5,620,YF,{size:12,rot:true});label(297.5,620,SUB,{size:12,rot:true});
label(34.5,866.7,YC,{size:12,rot:true});label(47.5,866.7,SUB,{size:12,rot:true});
label(283.5,862.5,YF,{size:12,rot:true});label(296.5,862.5,SUB,{size:12,rot:true});
const sideCols=[D_PINK,D_RED,D_CY,D_BL,D_GR,D_DG],sideY=[575.3,587.3,601,614.7,630.3,643.7],sideX=[519.3,519.3,521,521,521,521];
classNames.forEach((n,i)=>{svg.append("circle").attr("cx",512.3).attr("cy",sideY[i]).attr("r",2.3).attr("fill",sideCols[i]);
  label(sideX[i],sideY[i]+3.2,n,{size:9.9,anchor:"start"});});
["buffered (mRNA down)","buffered (mRNA up)"].forEach((n,i)=>{const yy=854.3+i*10.4;
  svg.append("circle").attr("cx",511.7).attr("cy",yy).attr("r",2.3).attr("fill",[F_NV,F_PU][i]);
  label(519.3,yy+3.2,n,{size:10,anchor:"start"});});
</script></body></html>
